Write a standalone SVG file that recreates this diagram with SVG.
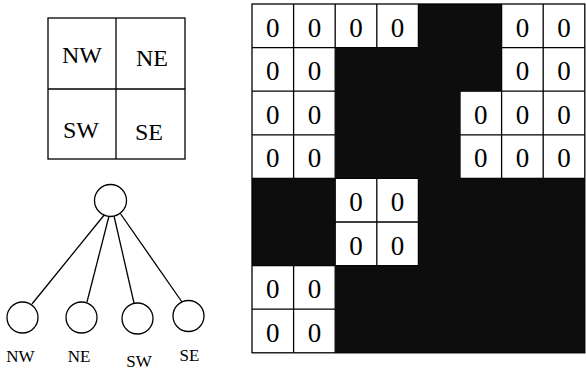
<svg xmlns="http://www.w3.org/2000/svg" width="586" height="372" viewBox="0 0 586 372">
<style>
.ln{stroke:#000;stroke-width:1.3;fill:none}
.q{font-family:"Liberation Serif",serif;font-size:24px;fill:#000;text-anchor:middle}
.lb{font-family:"Liberation Serif",serif;font-size:17px;fill:#000;text-anchor:middle}
.z{font-family:"Liberation Serif",serif;font-size:27px;fill:#000;text-anchor:middle}
.nd{fill:#fff;stroke:#000;stroke-width:1.3}
.blk{fill:#0d0d0d}
</style>
<rect width="586" height="372" fill="#fff"/>
<g id="quadrants">
<rect x="48" y="18" width="137" height="141" class="ln"/>
<line x1="116" y1="18" x2="116" y2="159" class="ln"/>
<line x1="48" y1="89" x2="185" y2="89" class="ln"/>
<text x="82" y="63" class="q">NW</text>
<text x="152" y="66" class="q">NE</text>
<text x="81" y="138" class="q">SW</text>
<text x="149" y="140" class="q">SE</text>
</g>
<g id="connectors" class="ln">
<line x1="105" y1="214" x2="32" y2="304"/>
<line x1="109" y1="216" x2="87" y2="302"/>
<line x1="114" y1="216" x2="134" y2="303"/>
<line x1="120" y1="213" x2="182" y2="302"/>
</g>
<g id="root"><circle cx="110.5" cy="200.5" r="16" class="nd"/></g>
<g id="node-nw"><circle cx="22.5" cy="317.5" r="15.5" class="nd"/><text x="20.5" y="362" class="lb">NW</text></g>
<g id="node-ne"><circle cx="81.5" cy="317.5" r="15.5" class="nd"/><text x="79" y="362" class="lb">NE</text></g>
<g id="node-sw"><circle cx="137.5" cy="318.5" r="15.5" class="nd"/><text x="139" y="367" class="lb">SW</text></g>
<g id="node-se"><circle cx="188.5" cy="316" r="15.5" class="nd"/><text x="189.5" y="361" class="lb">SE</text></g>
<g id="grid">
<g class="ln">
<path d="M293.6 4V352.8 M335.2 4V352.8 M376.8 4V352.8 M418.4 4V352.8 M460 4V352.8 M501.6 4V352.8 M543.2 4V352.8 M252 47.6H584.8 M252 91.2H584.8 M252 134.8H584.8 M252 178.4H584.8 M252 222H584.8 M252 265.6H584.8 M252 309.2H584.8"/>
</g>
<path class="blk" d="M418.4 4H501.6V47.6H418.4Z M335.2 47.6H501.6V91.2H335.2Z M335.2 91.2H460V178.4H335.2Z M252 178.4H335.2V265.6H252Z M418.4 178.4H584.8V265.6H418.4Z M335.2 265.6H584.8V352.8H335.2Z M335.2 178.4H418.4V178.6H335.2Z"/>
<rect x="252" y="4" width="332.8" height="348.8" class="ln"/>
<g>
<text x="272.8" y="36.5" class="z">0</text><text x="314.4" y="36.5" class="z">0</text><text x="356" y="36.5" class="z">0</text><text x="397.6" y="36.5" class="z">0</text><text x="522.4" y="36.5" class="z">0</text><text x="564" y="36.5" class="z">0</text>
<text x="272.8" y="80.1" class="z">0</text><text x="314.4" y="80.1" class="z">0</text><text x="522.4" y="80.1" class="z">0</text><text x="564" y="80.1" class="z">0</text>
<text x="272.8" y="123.7" class="z">0</text><text x="314.4" y="123.7" class="z">0</text><text x="480.8" y="123.7" class="z">0</text><text x="522.4" y="123.7" class="z">0</text><text x="564" y="123.7" class="z">0</text>
<text x="272.8" y="167.3" class="z">0</text><text x="314.4" y="167.3" class="z">0</text><text x="480.8" y="167.3" class="z">0</text><text x="522.4" y="167.3" class="z">0</text><text x="564" y="167.3" class="z">0</text>
<text x="356" y="210.9" class="z">0</text><text x="397.6" y="210.9" class="z">0</text>
<text x="356" y="254.5" class="z">0</text><text x="397.6" y="254.5" class="z">0</text>
<text x="272.8" y="298.1" class="z">0</text><text x="314.4" y="298.1" class="z">0</text>
<text x="272.8" y="341.7" class="z">0</text><text x="314.4" y="341.7" class="z">0</text>
</g>
</g>
</svg>
